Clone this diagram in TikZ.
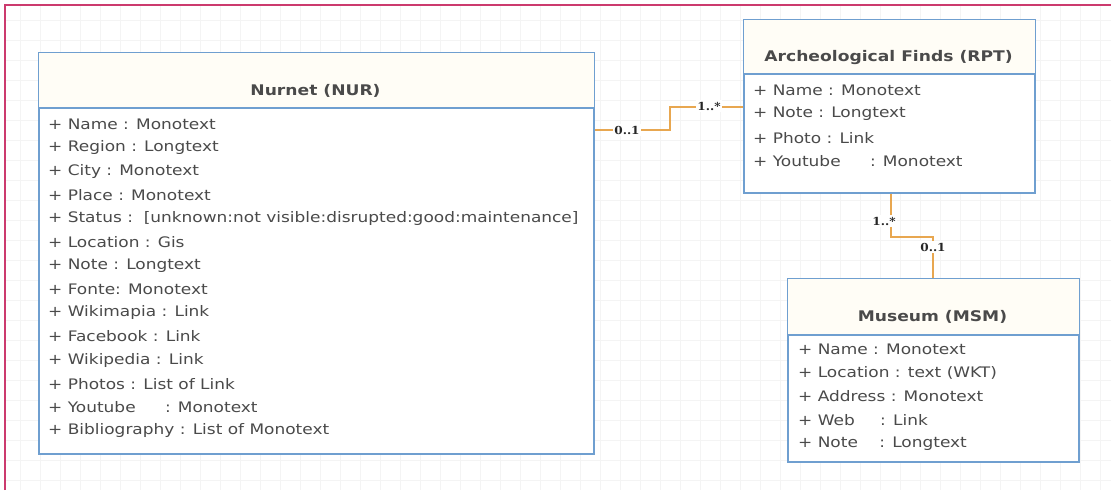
\documentclass[tikz,border=0pt]{standalone}
\usepackage{fontspec}
\setmainfont{DejaVu Sans}[FakeStretch=1.17]
\newfontfamily\lblfont{DejaVu Serif}[FakeStretch=1.1]
\usetikzlibrary{calc}
\definecolor{boxblue}{HTML}{6F9FD0}
\definecolor{hdrfill}{HTML}{FFFDF6}
\definecolor{txtgrey}{HTML}{4A4A4A}
\definecolor{conn}{HTML}{E8A750}
\definecolor{framec}{HTML}{CC3A6E}
\definecolor{gridc}{HTML}{F4F4F4}
\begin{document}
\begin{tikzpicture}[x=1pt,y=-1pt,
  cls/.style={draw=boxblue, line width=2pt, fill=white, anchor=north west, inner sep=0pt},
  ttl/.style={font=\fontsize{14.65}{18}\selectfont\bfseries, text=txtgrey, inner sep=0pt},
  attr/.style={font=\fontsize{14.5}{16}\selectfont, text=txtgrey, anchor=west, inner sep=0pt},
  mult/.style={font=\lblfont\fontsize{11}{13}\selectfont\bfseries, fill=white, inner sep=1.5pt, text=black!85},
  assoc/.style={draw=conn, line width=1.7pt},
  hline/.style={draw=boxblue, line width=2pt}]

\useasboundingbox (0,0) rectangle (1111,490);
\fill[white] (0,0) rectangle (1111,490);
\foreach \gx in {20,40,...,1100} \draw[gridc, line width=0.6pt] (\gx,5) -- (\gx,490);
\foreach \gy in {20,40,...,480} \draw[gridc, line width=0.6pt] (5,\gy) -- (1111,\gy);
\draw[framec, line width=1.6pt] (5,490) -- (5,5) -- (1111,5);

% ---------- Nurnet ----------
\node[cls, minimum width=555pt, minimum height=401pt] (nur) at (38,52) {};
\fill[hdrfill] ($(nur.north west)+(1,1)$) rectangle ($(nur.north east)+(-1,56)$);
\draw[hline] ($(nur.north west)+(0,56)$) -- ($(nur.north east)+(0,56)$);
\node[ttl] (nurT) at (315.5,91) {Nurnet (NUR)};
\foreach \t [count=\i] in {
  {+ Name : Monotext},
  {+ Region : Longtext},
  {+ City : Monotext},
  {+ Place : Monotext},
  {+ Status :\ \ [unknown:not visible:disrupted:good:maintenance]},
  {+ Location : Gis},
  {+ Note : Longtext},
  {+ Fonte: Monotext},
  {+ Wikimapia : Link},
  {+ Facebook : Link},
  {+ Wikipedia : Link},
  {+ Photos : List of Link},
  {+ Youtube\hspace{24pt} : Monotext},
  {+ Bibliography : List of Monotext}}
  \node[attr] (nurA\i) at (48,{124+(\i-1)*23.6}) {\t};

% ---------- Archeological Finds ----------
\node[cls, minimum width=291pt, minimum height=173pt] (arch) at (743,19) {};
\fill[hdrfill] ($(arch.north west)+(1,1)$) rectangle ($(arch.north east)+(-1,55)$);
\draw[hline] ($(arch.north west)+(0,55)$) -- ($(arch.north east)+(0,55)$);
\node[ttl] (archT) at (888.5,58) {Archeological Finds (RPT)};
\foreach \t [count=\i] in {
  {+ Name : Monotext},
  {+ Note : Longtext},
  {+ Photo : Link},
  {+ Youtube\hspace{24pt} : Monotext}}
  \node[attr] (archA\i) at (753,{90+(\i-1)*23.8}) {\t};

% ---------- Museum ----------
\node[cls, minimum width=291pt, minimum height=183pt] (mus) at (787,278) {};
\fill[hdrfill] ($(mus.north west)+(1,1)$) rectangle ($(mus.north east)+(-1,57)$);
\draw[hline] ($(mus.north west)+(0,57)$) -- ($(mus.north east)+(0,57)$);
\node[ttl] (musT) at (932.5,317) {Museum (MSM)};
\foreach \t [count=\i] in {
  {+ Name : Monotext},
  {+ Location : text (WKT)},
  {+ Address : Monotext},
  {+ Web\hspace{20pt} : Link},
  {+ Note\hspace{16pt} : Longtext}}
  \node[attr] (musA\i) at (798,{349+(\i-1)*23.7}) {\t};

% ---------- Connectors ----------
\coordinate (c1a) at ($(nur.north east)+(0,78)$);
\coordinate (c1b) at ($(arch.north west)+(0,88)$);
\draw[assoc] (c1a) -- ++(75,0) |- (c1b);
\node[mult] (m1) at (627,130) {0..1};
\node[mult] (m2) at (709,106) {1..*};

\coordinate (c2a) at ($(arch.south west)+(148,0)$);
\coordinate (c2b) at ($(mus.north west)+(146,0)$);
\draw[assoc] (c2a) -- ++(0,43) -| (c2b);
\node[mult] (m3) at (884,221) {1..*};
\node[mult] (m4) at (933,247) {0..1};
\end{tikzpicture}
\end{document}
